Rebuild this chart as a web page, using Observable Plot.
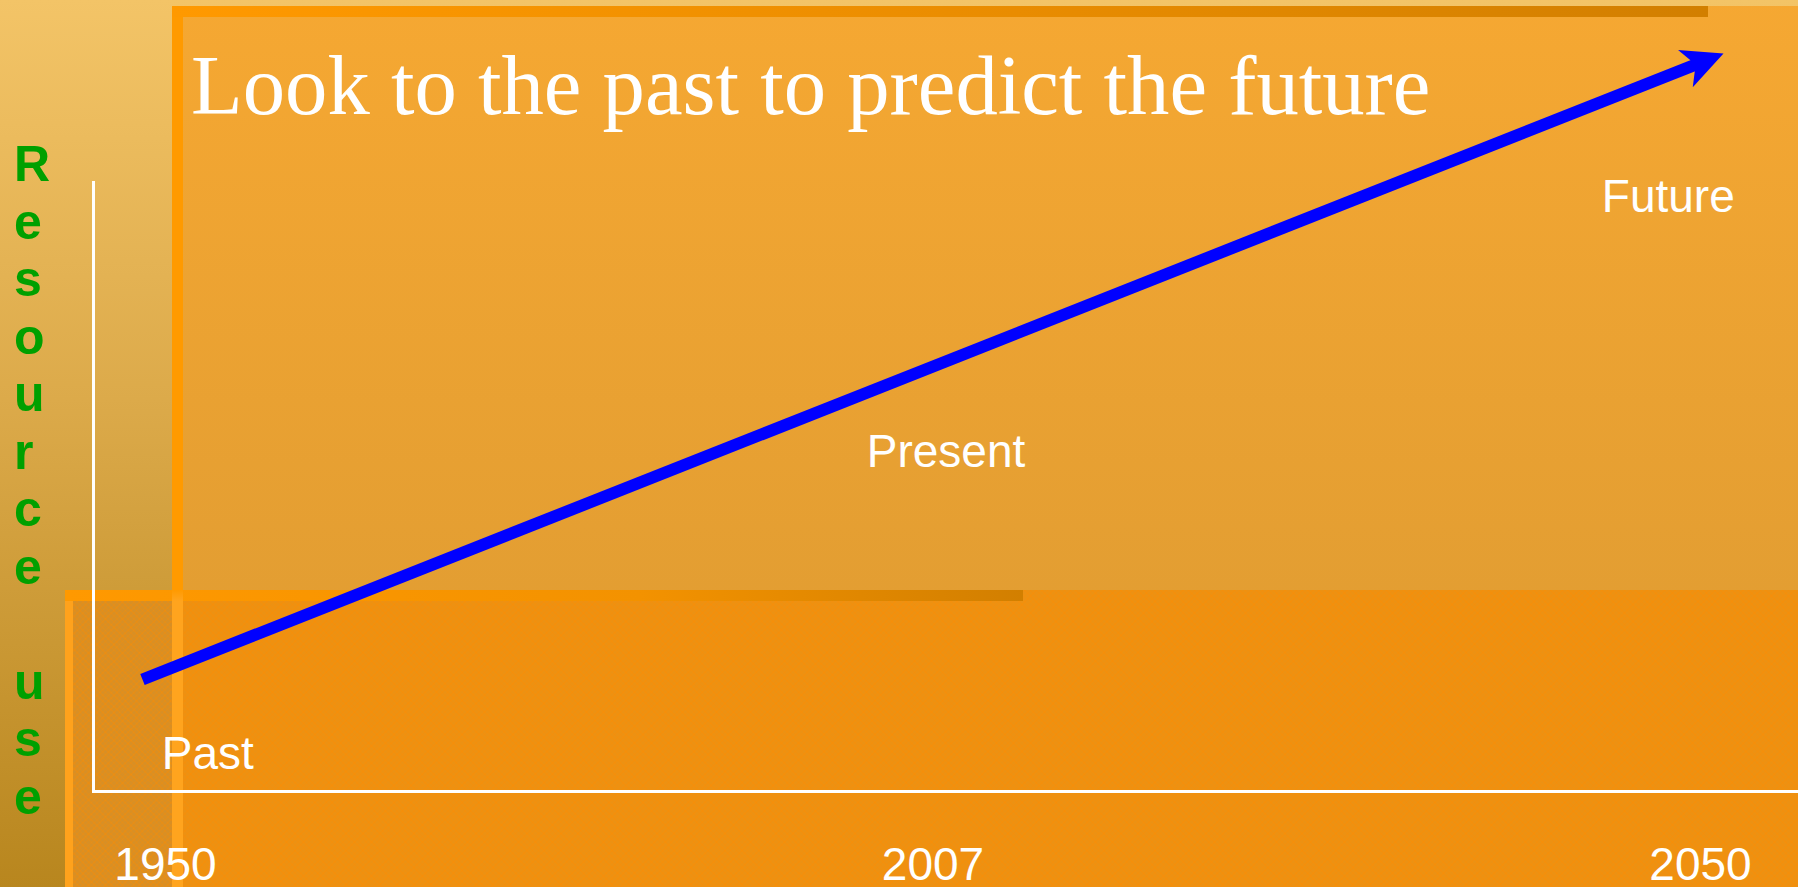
<!DOCTYPE html>
<html>
<head>
<meta charset="utf-8">
<script src="https://cdn.jsdelivr.net/npm/d3@7"></script>
<script src="https://cdn.jsdelivr.net/npm/@observablehq/plot@0.6"></script>
<style>
  html, body { margin: 0; padding: 0; }
  body {
    width: 1798px; height: 887px; position: relative; overflow: hidden;
    background: linear-gradient(#f3c467 0%, #dcaa4a 45%, #b8861e 100%);
    font-family: "Liberation Sans", Arial, sans-serif;
  }
  .abs { position: absolute; }
  .hatch {
    background-image:
      repeating-linear-gradient(45deg, rgba(255,140,0,0.3) 0 1px, transparent 1px 4px),
      repeating-linear-gradient(-45deg, rgba(255,140,0,0.3) 0 1px, transparent 1px 4px);
  }
  #f1 { left: 172px; top: 6px; width: 1626px; height: 881px;
        background-color: #eea434; }
  #f1grad { left: 172px; top: 6px; width: 1626px; height: 881px;
        background: linear-gradient(rgba(246,168,50,0.92), rgba(216,152,50,0.92)); }
  #f1left { left: 172px; top: 6px; width: 11px; height: 881px;
        background: linear-gradient(#ff9a00 0, #ff9a00 584px, #ffa41e 595px, #ffa41e 100%); }
  #f1top { left: 172px; top: 6px; width: 1536px; height: 11px;
        background: linear-gradient(90deg, #ff9900, #e98c00 55%, #d27f00); }
  #f2 { left: 65px; top: 590px; width: 1733px; height: 297px; background-color: #ed9112; }
  #f2a { left: 73px; top: 601px; width: 99px; height: 286px; background-color: #d98f24; }
  #f2left { left: 65px; top: 590px; width: 8px; height: 297px; background: #ffa21c; }
  #f2top { left: 65px; top: 590px; width: 958px; height: 11px;
        background: linear-gradient(90deg, #ff9900, #f39200 60%, #d27f00); }
  #title { left: 191px; top: 43px; font-family: "Liberation Serif", "Times New Roman", serif;
        font-size: 84.7px; line-height: 86px; color: #ffffff; white-space: nowrap; }
  #ylabel { left: 14px; top: 136px; font-weight: bold; font-size: 50px; line-height: 57.5px;
        color: #00a000; white-space: pre; }
  #chart { left: 0; top: 0; }
</style>
</head>
<body>
<div class="abs" id="f1"></div>
<div class="abs hatch" id="f1grad"></div>
<div class="abs hatch" id="f2"></div>
<div class="abs hatch" id="f2a"></div>
<div class="abs" id="f2left"></div>
<div class="abs" id="f2top"></div>
<div class="abs" id="f1left"></div>
<div class="abs" id="f1top"></div>
<div class="abs" id="chart"></div>
<div class="abs" id="title"></div>
<div class="abs" id="ylabel"></div>
<script>
// ---- data ----
const titleText = "Look to the past to predict the future";
const yAxisLabel = "Resource use";
const years = ["1950", "2007", "2050"];        // x tick labels
const tickIndex = [0, 1, 2];                    // stage index of each tick
const stages = ["Past", "Present", "Future"];   // stage labels
const stageX = [0.055, 1.017, 1.958];           // stage label positions (stage index)
const stageY = [-12, 36.3, 77.0];               // stage label positions (resource use)
const trendX = [-0.03, 2.03];                   // trend arrow: stage index
const trendY = [0, 100];                        // trend arrow: resource use

document.getElementById("title").textContent = titleText;
document.getElementById("ylabel").textContent = yAxisLabel.split("").join("\n");

const xOpts = {domain: [0, 2], range: [165, 1700]};
const yOpts = {domain: [0, 100], range: [679, 53]};

// angle of the trend line on screen, from the library's own scales
const sx = Plot.scale({x: xOpts});
const sy = Plot.scale({y: yOpts});
const ang = Math.atan2(sy.apply(trendY[1]) - sy.apply(trendY[0]), sx.apply(trendX[1]) - sx.apply(trendX[0])) * 180 / Math.PI;

// barbed arrowhead, tip at origin, pointing up
const arrowHead = {
  draw(ctx) {
    ctx.moveTo(0, 0);
    ctx.lineTo(-20, 41);
    ctx.lineTo(0, 30);
    ctx.lineTo(20, 41);
    ctx.closePath();
  }
};

const trend = [{x1: trendX[0], y1: trendY[0], x2: trendX[1], y2: trendY[1]}];
const labels = stages.map((s, i) => ({label: s, x: stageX[i], y: stageY[i]}));

const chart = Plot.plot({
  width: 1798,
  height: 887,
  marginLeft: 93,
  marginRight: 0,
  marginTop: 182,
  marginBottom: 96,
  style: {background: "transparent", color: "white", fontFamily: "'Liberation Sans', Arial, sans-serif", overflow: "visible"},
  x: {...xOpts, axis: null},
  y: {...yOpts, axis: null},
  marks: [
    Plot.frame({anchor: "left", stroke: "white", strokeWidth: 3}),
    Plot.frame({anchor: "bottom", stroke: "white", strokeWidth: 3}),
    Plot.axisX(tickIndex, {tickSize: 0, tickPadding: 56, fontSize: 46, fill: "white",
      tickFormat: (d) => years[d], label: null}),
    Plot.text(labels, {x: "x", y: "y", text: "label", fill: "white", fontSize: 46, textAnchor: "middle"}),
    Plot.arrow(trend, {x1: "x1", y1: "y1", x2: "x2", y2: "y2", stroke: "#0000ff", strokeWidth: 12,
      headLength: 0, insetEnd: 28, strokeLinecap: "butt"}),
    Plot.dot([trend[0]], {x: "x2", y: "y2", symbol: arrowHead, fill: "#0000ff", stroke: "none", rotate: ang + 90})
  ]
});
document.getElementById("chart").appendChild(chart);
</script>
</body>
</html>
